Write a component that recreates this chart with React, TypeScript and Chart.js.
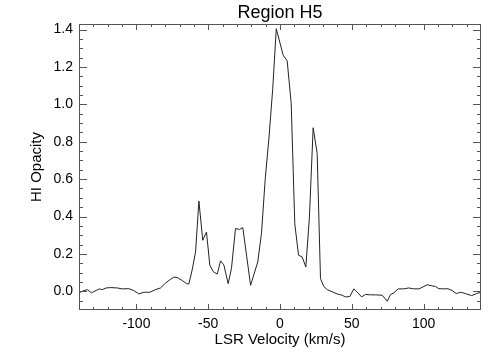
import React, { useEffect, useRef } from "react";
import { Chart, registerables } from "chart.js";

Chart.register(...registerables);

const titleText = "Region H5";
const xTitle = "LSR Velocity (km/s)";
const yTitle = "HI Opacity";

const velocity = [
  -140, -137.8, -134.3, -131.3, -128.0, -125.7, -123.8, -121.0, -118.0, -113.4,
  -109.9, -105.3, -101.8, -98.3, -94.8, -90.7, -86.7, -83.2, -79.7, -76.7,
  -74.0, -71.6, -68.1, -65.1, -63.5, -61.2, -58.8, -56.5, -53.8, -51.2,
  -48.9, -46.5, -43.7, -41.4, -39.1, -36.1, -33.8, -31.0, -28.2, -25.9,
  -20.5, -15.5, -12.9, -10.3, -7.7, -5.1, -2.6, 2.2, 5.0, 7.8,
  10.3, 12.9, 15.4, 18.0, 20.5, 23.1, 25.9, 28.2, 30.5, 32.9,
  36.4, 39.8, 43.3, 45.6, 48.6, 51.4, 54.2, 56.8, 59.5, 63.0,
  66.5, 71.2, 74.7, 77.0, 79.3, 82.3, 86.2, 89.7, 93.2, 96.7,
  99.5, 102.5, 105.3, 108.3, 110.6, 114.1, 116.9, 120.0, 122.7, 125.7,
  129.2, 133.4, 136.9, 140,
];

const opacity = [
  -0.008, 0.0, 0.009, -0.008, 0.005, 0.013, 0.009, 0.018, 0.02, 0.018,
  0.013, 0.014, 0.004, -0.014, -0.005, -0.005, 0.009, 0.018, 0.044, 0.062,
  0.076, 0.074, 0.058, 0.041, 0.039, 0.114, 0.211, 0.483, 0.273, 0.317,
  0.141, 0.105, 0.092, 0.163, 0.141, 0.041, 0.123, 0.336, 0.331, 0.341,
  0.032, 0.157, 0.31, 0.6, 0.82, 1.08, 1.405, 1.263, 1.233, 1.005,
  0.362, 0.193, 0.184, 0.13, 0.398, 0.875, 0.737, 0.068, 0.026, 0.009,
  -0.003, -0.014, -0.021, -0.03, -0.028, 0.013, -0.008, -0.03, -0.017, -0.019,
  -0.019, -0.021, -0.053, -0.017, -0.008, 0.013, 0.013, 0.018, 0.013, 0.013,
  0.023, 0.035, 0.03, 0.026, 0.014, 0.013, 0.014, 0.004, -0.012, -0.005,
  -0.012, -0.023, -0.012, -0.005,
];

const xRange = [-140, 140];
const yRange = [-0.1, 1.43];
const xTickValues = [-100, -50, 0, 50, 100];
const yTickValues = [0.0, 0.2, 0.4, 0.6, 0.8, 1.0, 1.2, 1.4];
const xMinorStep = 10;
const yMinorStep = 0.05;

const FONT = "'Liberation Sans', Arial, Helvetica, sans-serif";

const framePlugin = {
  id: "idlFrame",
  afterDraw(chart: any) {
    const { ctx, chartArea } = chart;
    const { left, right, top, bottom } = chartArea;
    const xs = chart.scales.x;
    const ys = chart.scales.y;
    ctx.save();
    ctx.strokeStyle = "#555";
    ctx.lineWidth = 1;
    ctx.strokeRect(Math.round(left) + 0.5, Math.round(top) + 0.5, Math.round(right - left) - 1, Math.round(bottom - top) - 1);
    ctx.beginPath();
    const xMaj = 6, xMin = 3, yMaj = 8, yMin = 4;
    // x ticks
    for (let v = xRange[0] + xMinorStep; v < xRange[1] - 1e-6; v += xMinorStep) {
      const isMajor = xTickValues.some((t) => Math.abs(t - v) < 1e-6);
      const len = isMajor ? xMaj : xMin;
      const px = Math.round(xs.getPixelForValue(v)) + 0.5;
      ctx.moveTo(px, bottom);
      ctx.lineTo(px, bottom - len);
      ctx.moveTo(px, top);
      ctx.lineTo(px, top + len);
    }
    // y ticks
    const n = Math.round((yRange[1] - yRange[0]) / yMinorStep);
    for (let i = 1; i <= n; i++) {
      const v = Math.round((yRange[0] + i * yMinorStep) * 1000) / 1000;
      if (v >= yRange[1]) break;
      const isMajor = yTickValues.some((t) => Math.abs(t - v) < 1e-6);
      const len = isMajor ? yMaj : yMin;
      const py = Math.round(ys.getPixelForValue(v)) + 0.5;
      ctx.moveTo(left, py);
      ctx.lineTo(left + len, py);
      ctx.moveTo(right, py);
      ctx.lineTo(right - len, py);
    }
    ctx.stroke();
    // title centered on plot area
    ctx.fillStyle = "#000";
    ctx.font = `18px ${FONT}`;
    ctx.textAlign = "center";
    ctx.textBaseline = "alphabetic";
    ctx.fillText(titleText, (left + right) / 2, 18);
    ctx.restore();
  },
};

export default function App() {
  const ref = useRef<HTMLCanvasElement | null>(null);

  useEffect(() => {
    if (!ref.current) return;
    const points = velocity.map((v, i) => ({ x: v, y: opacity[i] }));
    const chart = new Chart(ref.current, {
      type: "line",
      data: {
        datasets: [
          {
            data: points,
            borderColor: "#222",
            borderWidth: 1,
            pointRadius: 0,
            tension: 0,
            fill: false,
          },
        ],
      },
      options: {
        animation: false,
        responsive: true,
        maintainAspectRatio: false,
        layout: { padding: { top: 24, right: 23, left: 0, bottom: 0 } },
        plugins: {
          legend: { display: false },
          title: { display: false },
          tooltip: { enabled: false },
        },
        scales: {
          x: {
            type: "linear",
            min: xRange[0],
            max: xRange[1],
            grid: { display: false, drawTicks: false },
            border: { display: false },
            afterBuildTicks: (s: any) => {
              s.ticks = xTickValues.map((v) => ({ value: v }));
            },
            afterFit: (s: any) => {
              s.height = 50;
            },
            ticks: {
              padding: 6,
              maxRotation: 0,
              autoSkip: false,
              color: "#000",
              font: { family: FONT, size: 14 },
              callback: (v: any) => String(v),
            },
            title: {
              display: true,
              text: xTitle,
              color: "#000",
              font: { family: FONT, size: 15 },
              padding: { top: 0, bottom: 11 },
            },
          },
          y: {
            type: "linear",
            min: yRange[0],
            max: yRange[1],
            grid: { display: false, drawTicks: false },
            border: { display: false },
            afterBuildTicks: (s: any) => {
              s.ticks = yTickValues.map((v) => ({ value: v }));
            },
            afterFit: (s: any) => {
              s.width = 79;
            },
            ticks: {
              padding: 6,
              autoSkip: false,
              color: "#000",
              font: { family: FONT, size: 14 },
              callback: (v: any) => Number(v).toFixed(1),
            },
            title: {
              display: true,
              text: yTitle,
              color: "#000",
              font: { family: FONT, size: 15 },
              padding: { top: 28, bottom: 0 },
            },
          },
        },
      },
      plugins: [framePlugin],
    });
    return () => chart.destroy();
  }, []);

  return (
    <div style={{ position: "absolute", left: 0, top: 0, width: 504, height: 360, background: "#fff" }}>
      <canvas ref={ref} />
    </div>
  );
}
